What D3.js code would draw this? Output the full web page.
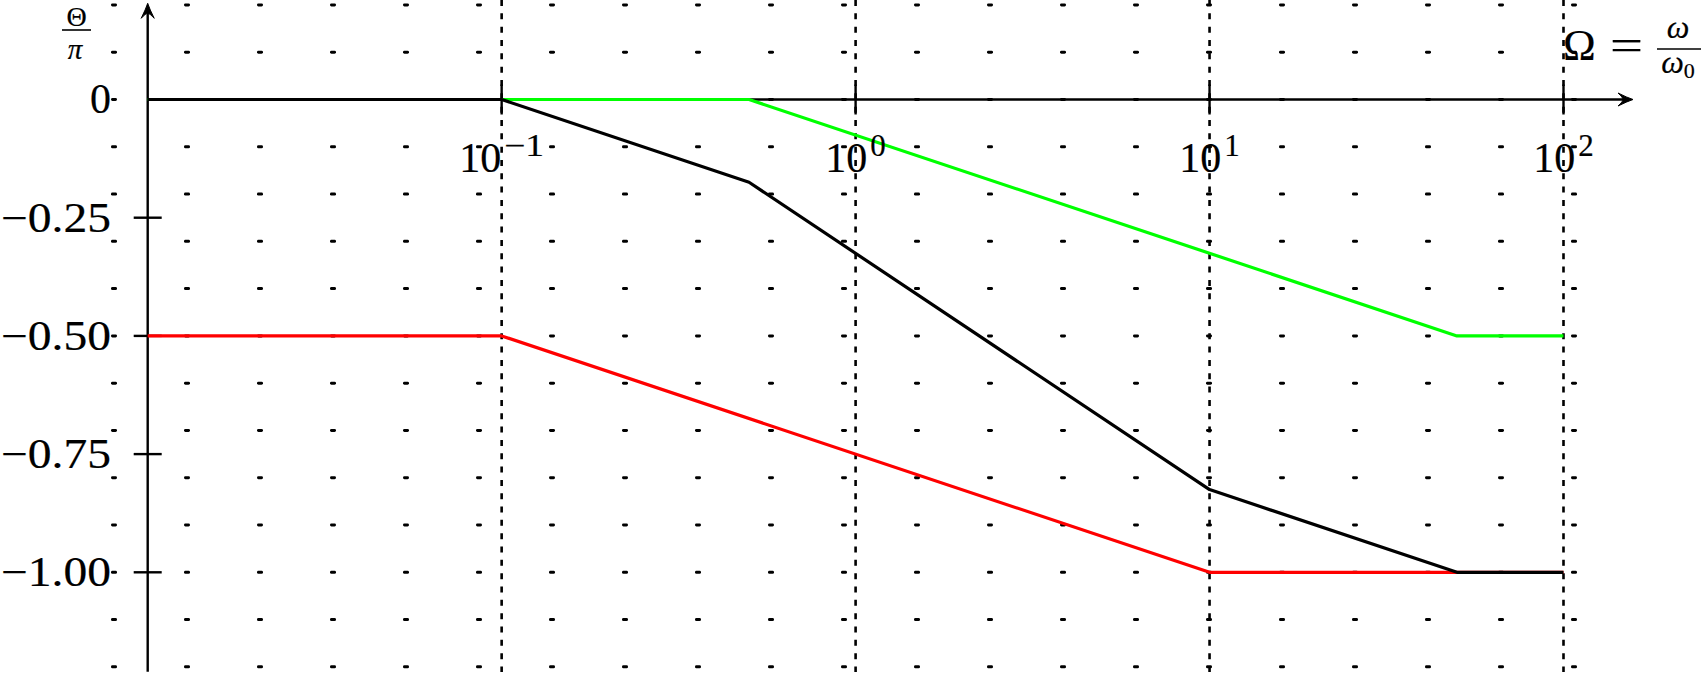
<!DOCTYPE html>
<html>
<head>
<meta charset="utf-8">
<title>Phase asymptotes</title>
<script src="https://d3js.org/d3.v7.min.js"></script>
<style>
  body { margin: 0; background: #fff; }
  text { font-family: "Liberation Serif", "DejaVu Serif", serif; fill: #000; stroke: #000; stroke-width: 0.2; }
</style>
</head>
<body>
<svg width="1701" height="696"></svg>
<script>

// frequency breakpoints (Omega) and phase values (Theta / pi) of each asymptote
var redOmega   = [0.01, 0.1, 10, 100];
var redPhase   = [-0.5, -0.5, -1, -1];
var greenOmega = [0.01, 0.5, 50, 100];
var greenPhase = [0, 0, -0.5, -0.5];
var blackOmega = [0.01, 0.1, 0.5, 10, 50, 100];
var blackPhase = [0, 0, -0.175, -0.825, -1, -1];

// axis ticks
var xDecades   = [0.1, 1, 10, 100];
var xExponents = ["\u22121", "0", "1", "2"];
var yTicks     = [0, -0.25, -0.5, -0.75, -1];
var yLabels    = ["0", "\u22120.25", "\u22120.50", "\u22120.75", "\u22121.00"];
var gridRows   = [0.2, 0.1, 0, -0.1, -0.2, -0.3, -0.4, -0.5, -0.6, -0.7, -0.8, -0.9, -1.0, -1.1, -1.2];

var svg = d3.select("svg");

var x = d3.scaleLog()
    .domain([0.01, 100])
    .range([147.7, 1563.5]);

var y = d3.scaleLinear()
    .domain([0, -1])
    .range([99.5, 572.3]);

var x0 = x.range()[0], y0 = y(0);

// dotted background grid (fixed step on the page, not tied to the decades)
var dotX = d3.range(21).map(function(i) { return 114 + 73 * i; });
var dots = svg.append("g");
gridRows.forEach(function(r) {
  dots.selectAll(null)
    .data(dotX)
    .enter().append("rect")
      .attr("x", function(d) { return d - 3; })
      .attr("y", y(r) - 1.5)
      .attr("width", 6)
      .attr("height", 3)
      .attr("rx", 1.4)
      .attr("fill", "#000");
});

// dashed vertical lines at each decade
svg.append("g")
  .selectAll("line")
  .data(xDecades)
  .enter().append("line")
    .attr("x1", function(d) { return x(d); })
    .attr("x2", function(d) { return x(d); })
    .attr("y1", 0)
    .attr("y2", 672)
    .attr("stroke", "#000")
    .attr("stroke-width", 2.6)
    .attr("stroke-dasharray", "6,7.33");

// axes with arrow tips
var arrow = "M0,0 Q-6,-2 -15,-6.5 Q-10,-2 -10,0 Q-10,2 -15,6.5 Q-6,2 0,0 Z";
svg.append("line")
    .attr("x1", x0).attr("x2", 1628)
    .attr("y1", y0).attr("y2", y0)
    .attr("stroke", "#000").attr("stroke-width", 2.4);
svg.append("path")
    .attr("d", arrow)
    .attr("transform", "translate(1633," + y0 + ")")
    .attr("fill", "#000").attr("stroke", "#000").attr("stroke-width", 1);

svg.append("line")
    .attr("x1", x0).attr("x2", x0)
    .attr("y1", 671.7).attr("y2", 8)
    .attr("stroke", "#000").attr("stroke-width", 2.4);
svg.append("path")
    .attr("d", arrow)
    .attr("transform", "translate(" + x0 + ",3.3) rotate(-90)")
    .attr("fill", "#000").attr("stroke", "#000").attr("stroke-width", 1);

// tick marks
svg.append("g")
  .selectAll("line")
  .data(xDecades)
  .enter().append("line")
    .attr("x1", function(d) { return x(d); })
    .attr("x2", function(d) { return x(d); })
    .attr("y1", y0 - 15)
    .attr("y2", y0 + 15)
    .attr("stroke", "#000").attr("stroke-width", 2.4);

svg.append("g")
  .selectAll("line")
  .data(yTicks.filter(function(d) { return d != 0; }))
  .enter().append("line")
    .attr("x1", x0 - 14)
    .attr("x2", x0 + 14)
    .attr("y1", function(d) { return y(d); })
    .attr("y2", function(d) { return y(d); })
    .attr("stroke", "#000").attr("stroke-width", 2.4);

// asymptote curves
var line = d3.line()
    .x(function(d) { return x(d[0]); })
    .y(function(d) { return y(d[1]); });

var curves = [
  { om: redOmega,   ph: redPhase,   color: "#ff0000" },
  { om: greenOmega, ph: greenPhase, color: "#00ff00" },
  { om: blackOmega, ph: blackPhase, color: "#000000" }
];

curves.forEach(function(c) {
  svg.append("path")
      .datum(d3.zip(c.om, c.ph))
      .attr("fill", "none")
      .attr("stroke", c.color)
      .attr("stroke-width", 3.2)
      .attr("stroke-linejoin", "round")
      .attr("d", line);
});

// y tick labels
svg.append("g")
  .selectAll("text")
  .data(yTicks)
  .enter().append("text")
    .attr("x", 111)
    .attr("y", function(d) { return y(d); })
    .attr("dy", "0.33em")
    .attr("text-anchor", "end")
    .attr("font-size", 42)
    .attr("textLength", function(d) { return d < 0 ? 110 : null; })
    .attr("lengthAdjust", "spacingAndGlyphs")
    .text(function(d, i) { return yLabels[i]; });

// x tick labels 10^k, centred on the tick
xDecades.forEach(function(d, i) {
  var g = svg.append("g");
  var base = g.append("text")
      .attr("x", 0).attr("y", 171.5)
      .attr("font-size", 42)
      .text("10");
  var w1 = base.node().getComputedTextLength();
  var sup = g.append("text")
      .attr("x", w1 + 3).attr("y", 156)
      .attr("font-size", 31)
      .text(xExponents[i]);
  var w2 = sup.node().getComputedTextLength();
  if (xExponents[i].length > 1) {
    w2 = 40;
    sup.attr("textLength", w2).attr("lengthAdjust", "spacingAndGlyphs");
  }
  g.attr("transform", "translate(" + (x(d) - (w1 + 3 + w2) / 2) + ",0)");
});

// axis titles
var yt = svg.append("g");
yt.append("text")
    .attr("x", 76.5).attr("y", 25.5)
    .attr("text-anchor", "middle")
    .attr("font-size", 28)
    .text("\u0398");
yt.append("line")
    .attr("x1", 62).attr("x2", 91)
    .attr("y1", 30).attr("y2", 30)
    .attr("stroke", "#000").attr("stroke-width", 1.6);
yt.append("text")
    .attr("x", 75).attr("y", 58.5)
    .attr("text-anchor", "middle")
    .attr("font-size", 29)
    .attr("font-style", "italic")
    .text("\u03c0");

var xt = svg.append("g");
xt.append("text")
    .attr("x", 1563).attr("y", 60)
    .attr("font-size", 44)
    .text("\u03a9");
xt.append("text")
    .attr("x", 1610).attr("y", 60)
    .attr("font-size", 44)
    .attr("textLength", 33)
    .attr("lengthAdjust", "spacingAndGlyphs")
    .text("=");
xt.append("text")
    .attr("x", 1678).attr("y", 38)
    .attr("text-anchor", "middle")
    .attr("font-size", 32)
    .attr("font-style", "italic")
    .text("\u03c9");
xt.append("line")
    .attr("x1", 1657).attr("x2", 1701)
    .attr("y1", 49).attr("y2", 49)
    .attr("stroke", "#000").attr("stroke-width", 1.6);
var den = xt.append("text")
    .attr("x", 1678).attr("y", 73)
    .attr("text-anchor", "middle")
    .attr("font-size", 32);
den.append("tspan").attr("font-style", "italic").text("\u03c9");
den.append("tspan").attr("font-size", 22).attr("dy", 5).text("0");

</script>
</body>
</html>
